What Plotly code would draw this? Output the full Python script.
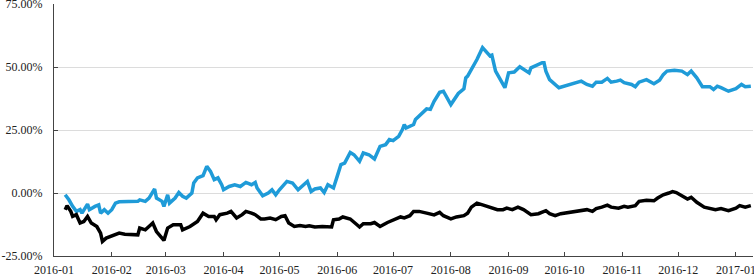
import plotly.graph_objects as go

# ---- data (values in %) ----
blue_dates = [
    "2016-01-07", "2016-01-09", "2016-01-11", "2016-01-13", "2016-01-15", "2016-01-16",
    "2016-01-19", "2016-01-20", "2016-01-23", "2016-01-25", "2016-01-26", "2016-01-28",
    "2016-01-30", "2016-02-01", "2016-02-03", "2016-02-05", "2016-02-15", "2016-02-16",
    "2016-02-19", "2016-02-21", "2016-02-24", "2016-02-25", "2016-02-28", "2016-02-29",
    "2016-03-02", "2016-03-03", "2016-03-06", "2016-03-08", "2016-03-10", "2016-03-12",
    "2016-03-15", "2016-03-16", "2016-03-18", "2016-03-21", "2016-03-23", "2016-03-25",
    "2016-03-27", "2016-03-29", "2016-03-31", "2016-04-01", "2016-04-04", "2016-04-07",
    "2016-04-10", "2016-04-13", "2016-04-16", "2016-04-18", "2016-04-19", "2016-04-22",
    "2016-04-25", "2016-04-27", "2016-04-29", "2016-05-01", "2016-05-05", "2016-05-08",
    "2016-05-11", "2016-05-16", "2016-05-18", "2016-05-20", "2016-05-23", "2016-05-25",
    "2016-05-27", "2016-05-30", "2016-06-01", "2016-06-03", "2016-06-05", "2016-06-08",
    "2016-06-10", "2016-06-13", "2016-06-15", "2016-06-18", "2016-06-21", "2016-06-24",
    "2016-06-27", "2016-06-29", "2016-07-01", "2016-07-04", "2016-07-06", "2016-07-07",
    "2016-07-08", "2016-07-12", "2016-07-13", "2016-07-15", "2016-07-19", "2016-07-21",
    "2016-07-23", "2016-07-26", "2016-07-28", "2016-08-01", "2016-08-05", "2016-08-08",
    "2016-08-09", "2016-08-10", "2016-08-15", "2016-08-18", "2016-08-22", "2016-08-23",
    "2016-08-25", "2016-08-30", "2016-09-01", "2016-09-04", "2016-09-07", "2016-09-12",
    "2016-09-13", "2016-09-19", "2016-09-20", "2016-09-21", "2016-09-23", "2016-09-28",
    "2016-10-04", "2016-10-10", "2016-10-13", "2016-10-16", "2016-10-18", "2016-10-21",
    "2016-10-24", "2016-10-26", "2016-10-29", "2016-10-31", "2016-11-02", "2016-11-06",
    "2016-11-08", "2016-11-10", "2016-11-14", "2016-11-18", "2016-11-21", "2016-11-23",
    "2016-11-25", "2016-11-29", "2016-12-03", "2016-12-06", "2016-12-08", "2016-12-11",
    "2016-12-14", "2016-12-18", "2016-12-20", "2016-12-22", "2016-12-24", "2016-12-28",
    "2017-01-01", "2017-01-04", "2017-01-06", "2017-01-09",
]
blue_values = [
    -0.7, -2.7, -5.3, -7.3, -6.6, -8.0,
    -4.4, -6.6, -5.3, -4.7, -8.0, -6.6,
    -8.0, -6.6, -4.0, -3.5, -3.3, -2.7,
    -3.3, -2.0, 1.6, -2.0, -3.3, -5.3,
    -0.7, -4.0, -2.0, 0.2, -1.3, -2.0,
    0.0, 4.0, 6.0, 6.9, 10.6, 8.6,
    5.3, 6.0, 3.3, 1.3, 2.6, 3.3,
    2.6, 4.2, 3.3, 4.2, 2.0, -1.1,
    0.0, 1.3, -0.7, 1.3, 4.6, 4.0,
    1.3, 4.6, 0.6, 1.6, 2.0, 0.2,
    3.3, 2.0, 6.6, 11.3, 11.9, 16.1,
    15.2, 12.6, 15.9, 15.2, 13.5, 18.5,
    19.2, 21.2, 20.8, 22.5, 25.2, 27.2,
    25.8, 27.2, 29.2, 30.5, 33.4, 33.2,
    36.4, 40.0, 40.4, 35.1, 39.5, 41.4,
    45.7, 46.4, 53.0, 57.7, 54.4, 54.7,
    48.4, 41.8, 47.7, 48.0, 50.1, 47.7,
    49.7, 51.7, 51.7, 48.4, 45.0, 41.8,
    43.1, 44.4, 43.1, 42.4, 44.0, 44.0,
    45.5, 44.0, 44.4, 44.8, 43.8, 43.1,
    42.2, 44.0, 45.0, 43.4, 44.8, 47.0,
    48.4, 48.7, 48.4, 47.0, 48.4, 45.7,
    42.2, 42.2, 41.1, 42.4, 41.8, 40.4,
    41.4, 43.1, 42.2, 42.4,
]

black_dates = [
    "2016-01-07", "2016-01-08", "2016-01-10", "2016-01-11", "2016-01-13", "2016-01-15",
    "2016-01-17", "2016-01-19", "2016-01-21", "2016-01-24", "2016-01-26", "2016-01-27",
    "2016-01-29", "2016-02-02", "2016-02-05", "2016-02-08", "2016-02-15", "2016-02-16",
    "2016-02-19", "2016-02-22", "2016-02-23", "2016-02-25", "2016-02-27", "2016-02-29",
    "2016-03-02", "2016-03-05", "2016-03-09", "2016-03-10", "2016-03-14", "2016-03-18",
    "2016-03-21", "2016-03-24", "2016-03-27", "2016-03-28", "2016-03-30", "2016-04-03",
    "2016-04-05", "2016-04-08", "2016-04-11", "2016-04-13", "2016-04-16", "2016-04-18",
    "2016-04-21", "2016-04-23", "2016-04-26", "2016-04-29", "2016-05-02", "2016-05-04",
    "2016-05-06", "2016-05-09", "2016-05-12", "2016-05-15", "2016-05-17", "2016-05-20",
    "2016-05-24", "2016-05-29", "2016-05-30", "2016-06-02", "2016-06-04", "2016-06-08",
    "2016-06-11", "2016-06-13", "2016-06-15", "2016-06-19", "2016-06-21", "2016-06-24",
    "2016-06-28", "2016-07-01", "2016-07-05", "2016-07-07", "2016-07-10", "2016-07-12",
    "2016-07-15", "2016-07-19", "2016-07-23", "2016-07-26", "2016-07-28", "2016-08-01",
    "2016-08-04", "2016-08-08", "2016-08-10", "2016-08-12", "2016-08-15", "2016-08-18",
    "2016-08-22", "2016-08-26", "2016-08-29", "2016-08-31", "2016-09-03", "2016-09-06",
    "2016-09-09", "2016-09-13", "2016-09-17", "2016-09-21", "2016-09-23", "2016-09-26",
    "2016-09-29", "2016-10-04", "2016-10-09", "2016-10-13", "2016-10-16", "2016-10-18",
    "2016-10-21", "2016-10-24", "2016-10-26", "2016-10-30", "2016-11-02", "2016-11-04",
    "2016-11-08", "2016-11-10", "2016-11-14", "2016-11-18", "2016-11-20", "2016-11-23",
    "2016-11-26", "2016-11-28", "2016-11-30", "2016-12-03", "2016-12-06", "2016-12-08",
    "2016-12-11", "2016-12-15", "2016-12-18", "2016-12-21", "2016-12-24", "2016-12-28",
    "2017-01-01", "2017-01-03", "2017-01-06", "2017-01-09",
]
black_values = [
    -6.6, -5.0, -7.3, -9.3, -8.6, -11.9,
    -11.3, -9.3, -11.9, -13.3, -15.9, -19.2,
    -17.9, -16.6, -15.9, -16.4, -16.6, -13.9,
    -14.6, -12.6, -11.9, -15.3, -17.3, -18.8,
    -13.9, -12.6, -12.6, -14.6, -13.3, -11.3,
    -8.0, -9.3, -9.3, -10.6, -8.6, -8.0,
    -7.3, -9.9, -8.6, -7.3, -8.0, -8.6,
    -10.3, -10.3, -9.9, -10.6, -9.3, -9.0,
    -11.9, -13.3, -12.9, -13.3, -13.0, -13.5,
    -13.3, -13.5, -10.6, -10.3, -9.5, -10.3,
    -12.2, -13.5, -12.2, -12.2, -11.7, -13.3,
    -11.7, -10.6, -9.5, -9.9, -9.0, -7.3,
    -7.3, -8.0, -8.7, -7.7, -9.0, -10.3,
    -9.5, -9.0, -8.0, -5.6, -4.0, -4.7,
    -5.6, -6.6, -6.6, -6.0, -6.6, -5.6,
    -6.6, -8.6, -8.2, -7.0, -8.2, -9.0,
    -8.2, -7.7, -6.9, -6.6, -7.3, -6.2,
    -5.6, -4.8, -5.6, -6.0, -5.3, -5.6,
    -5.0, -3.3, -2.9, -3.1, -2.0, -0.7,
    0.0, 0.6, 0.2, -1.3, -2.4, -1.7,
    -3.7, -5.6, -6.0, -6.6, -6.2, -7.0,
    -6.0, -5.0, -5.6, -5.0,
]

y_tick_values = [-25, 0, 25, 50, 75]
y_tick_labels = ["-25.00%", "0.00%", "25.00%", "50.00%", "75.00%"]

# ---- figure ----
fig = go.Figure()
fig.add_trace(go.Scatter(x=blue_dates, y=blue_values, mode="lines",
                         line=dict(color="#1f9bd8", width=3.5), showlegend=False))
fig.add_trace(go.Scatter(x=black_dates, y=black_values, mode="lines",
                         line=dict(color="#000000", width=3.5), showlegend=False))

font_family = "Liberation Serif, Times New Roman, serif"
fig.update_layout(
    width=754, height=275,
    margin=dict(l=54, r=1, t=4, b=19),
    paper_bgcolor="white", plot_bgcolor="white",
    font=dict(family=font_family, size=12, color="#222"),
)
fig.update_xaxes(
    type="date", automargin=False,
    range=["2016-01-01", "2017-01-10 04:00"],
    dtick="M1", tick0="2016-01-01", tickformat="%Y-%m",
    showgrid=False, zeroline=False,
    showline=True, linecolor="#444", linewidth=1,
    ticks="inside", ticklen=4, tickcolor="#444",
    ticklabeloverflow="allow", ticklabelstandoff=3,
    tickfont=dict(family=font_family, size=12, color="#222"),
)
fig.update_yaxes(
    automargin=False,
    range=[-25, 75.03],
    tickvals=y_tick_values, ticktext=y_tick_labels,
    showgrid=True, gridcolor="#dcdcdc", gridwidth=1,
    zeroline=False,
    showline=True, linecolor="#444", linewidth=1,
    ticks="inside", ticklen=4, tickcolor="#444",
    ticklabeloverflow="allow", ticklabelstandoff=8,
    tickfont=dict(family=font_family, size=12, color="#222"),
)

fig.write_html("out.html", config={"displayModeBar": False},
               post_script="document.body.style.margin='0';")
